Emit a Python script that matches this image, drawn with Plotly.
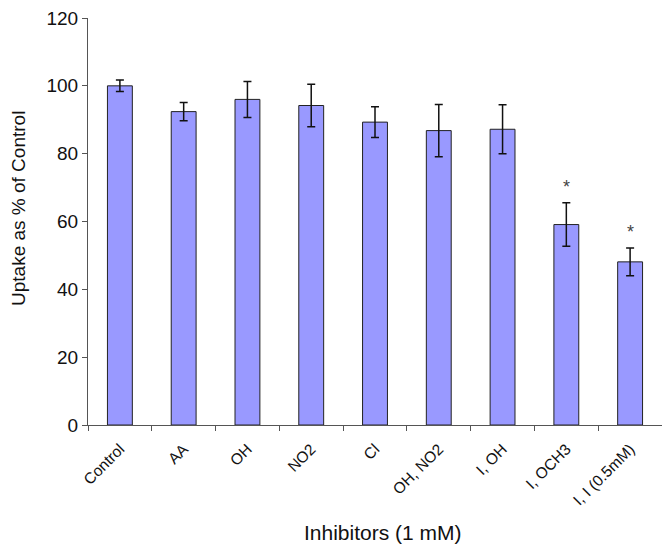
import plotly.graph_objects as go

categories = ["Control", "AA", "OH", "NO2", "Cl", "OH, NO2", "I, OH", "I, OCH3", "I, I (0.5mM)"]
values = [100, 92.4, 96, 94.2, 89.3, 86.8, 87.2, 59.1, 48.1]
errors = [1.7, 2.7, 5.3, 6.3, 4.5, 7.7, 7.2, 6.4, 4.1]
significant = [False, False, False, False, False, False, False, True, True]

FONT = "Liberation Sans, Arial, sans-serif"

fig = go.Figure()
fig.add_trace(go.Bar(
    x=categories, y=values,
    marker=dict(color="#9999FF", line=dict(color="#222222", width=1)),
    width=0.39,
    error_y=dict(type="data", array=errors, visible=True, color="#111111", thickness=1.5, width=4),
))

for c, v, e, s in zip(categories, values, errors, significant):
    if s:
        fig.add_annotation(x=c, y=v + e, text="*", showarrow=False, yanchor="bottom", yshift=4,
                           font=dict(family=FONT, size=18, color="#444444"))

# axis titles as annotations for precise placement
fig.add_annotation(text="Uptake as % of Control", xref="paper", yref="paper", x=-0.12, y=0.531,
                   xanchor="center", yanchor="middle",
                   textangle=-90, showarrow=False, font=dict(family=FONT, size=19, color="#111111"))
fig.add_annotation(text="Inhibitors (1 mM)", xref="paper", yref="paper", x=0.514, y=-0.263,
                   xanchor="center", yanchor="middle",
                   showarrow=False, font=dict(family=FONT, size=21, color="#111111"))

fig.update_layout(
    width=662, height=545,
    margin=dict(l=88, r=0, t=18, b=120),
    plot_bgcolor="white", paper_bgcolor="white",
    showlegend=False,
    font=dict(family=FONT, color="#111111"),
)
fig.update_xaxes(
    showline=True, linecolor="#555555", linewidth=1,
    ticks="outside", tickson="boundaries", ticklen=5, tickcolor="#555555",
    tickangle=-45, tickfont=dict(size=15.5), ticklabelstandoff=8,
    showgrid=False,
)
fig.update_yaxes(
    range=[0, 120], dtick=20,
    showline=True, linecolor="#555555", linewidth=1,
    ticks="outside", ticklen=5, tickcolor="#555555",
    tickfont=dict(size=19),
    showgrid=False, zeroline=False,
)

fig.write_html("out.html")
